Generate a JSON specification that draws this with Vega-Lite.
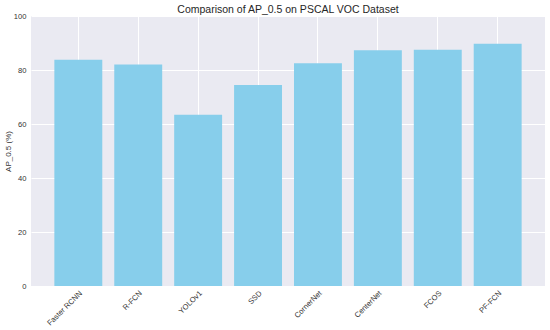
{
  "$schema": "https://vega.github.io/schema/vega-lite/v6.json",
  "width": 514,
  "height": 270,
  "autosize": {"type": "none"},
  "padding": {"left": 31, "top": 16, "right": 5, "bottom": 44},
  "background": "white",
  "config": {
    "view": {"fill": "#EAEAF2", "stroke": null},
    "font": "Liberation Sans",
    "axis": {
      "domain": false,
      "ticks": false,
      "tickSize": 0,
      "gridColor": "white",
      "gridWidth": 1,
      "gridOpacity": 1,
      "labelColor": "#333333",
      "titleColor": "#333333",
      "labelFont": "Liberation Sans",
      "titleFont": "Liberation Sans",
      "labelFontSize": 7.6,
      "titleFontSize": 8,
      "titleFontWeight": "normal"
    }
  },
  "title": {
    "text": "Comparison of AP_0.5 on PSCAL VOC Dataset",
    "fontSize": 10.5,
    "fontWeight": "normal",
    "font": "Liberation Sans",
    "color": "#262626",
    "offset": -3,
    "anchor": "middle"
  },
  "data": {
    "values": [
      {"model": "Faster RCNN", "ap": 83.8},
      {"model": "R-FCN", "ap": 82.0},
      {"model": "YOLOv1", "ap": 63.4},
      {"model": "SSD", "ap": 74.4},
      {"model": "CornerNet", "ap": 82.5},
      {"model": "CenterNet", "ap": 87.3},
      {"model": "FCOS", "ap": 87.5},
      {"model": "PF-FCN", "ap": 89.7}
    ]
  },
  "mark": {"type": "bar", "color": "#87CEEB"},
  "encoding": {
    "x": {
      "field": "model",
      "type": "nominal",
      "sort": null,
      "scale": {"paddingInner": 0.2, "paddingOuter": 0.39},
      "axis": {
        "title": null,
        "grid": true,
        "bandPosition": 0.5,
        "labelAngle": -45,
        "labelAlign": "right",
        "labelBaseline": "top",
        "labelPadding": 3,
        "labelLimit": 300,
        "labelOverlap": false,
        "encode": {
          "labels": {
            "update": {
              "x": {"signal": "scale('x', datum.value) + bandwidth('x') * 0.5 + (length(datum.value) * 4.2 - 7.6) * 0.3535"}
            }
          }
        }
      }
    },
    "y": {
      "field": "ap",
      "type": "quantitative",
      "scale": {"domain": [0, 100], "nice": false},
      "axis": {
        "title": "AP_0.5 (%)",
        "values": [0, 20, 40, 60, 80, 100],
        "grid": true,
        "labelPadding": 5,
        "titlePadding": 1
      }
    }
  }
}
